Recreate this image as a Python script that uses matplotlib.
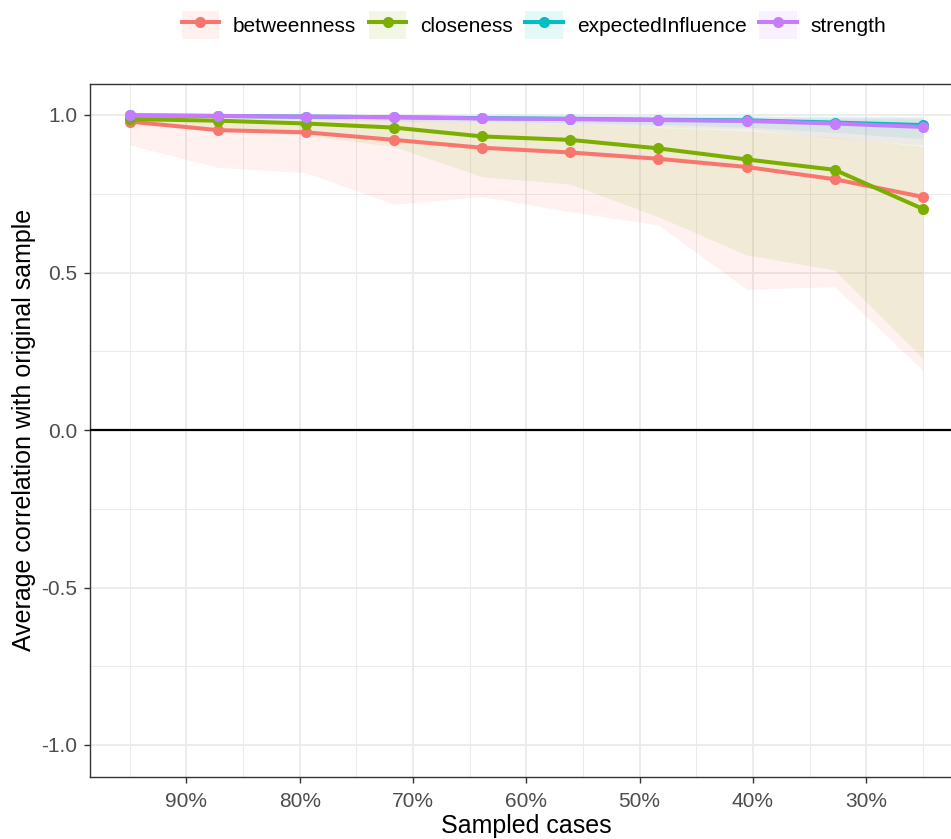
import numpy as np
import matplotlib
matplotlib.use("Agg")
import matplotlib.pyplot as plt
from matplotlib.lines import Line2D
from matplotlib.patches import Patch

plt.rcParams['font.family'] = ['Liberation Sans', 'DejaVu Sans']

# sampled proportion of cases (drop-case bootstrap)
cases = [0.95, 0.8722, 0.7944, 0.7167, 0.6389, 0.5611, 0.4833, 0.4056, 0.3278, 0.25]

measures = ["betweenness", "closeness", "expectedInfluence", "strength"]
colors = ["#F8766D", "#7CAE00", "#00BFC4", "#C77CFF"]

mean_vals = {
    "betweenness":       [0.979, 0.952, 0.945, 0.921, 0.896, 0.881, 0.861, 0.835, 0.796, 0.740],
    "closeness":         [0.987, 0.982, 0.973, 0.960, 0.932, 0.921, 0.894, 0.859, 0.826, 0.702],
    "expectedInfluence": [0.999, 0.997, 0.995, 0.993, 0.990, 0.988, 0.985, 0.983, 0.976, 0.968],
    "strength":          [0.999, 0.997, 0.995, 0.993, 0.989, 0.987, 0.984, 0.981, 0.973, 0.962],
}
lower_vals = {
    "betweenness":       [0.905, 0.834, 0.817, 0.717, 0.741, 0.693, 0.651, 0.447, 0.455, 0.190],
    "closeness":         [0.975, 0.955, 0.935, 0.900, 0.804, 0.781, 0.677, 0.556, 0.508, 0.228],
    "expectedInfluence": [0.996, 0.993, 0.989, 0.985, 0.980, 0.976, 0.970, 0.962, 0.945, 0.925],
    "strength":          [0.995, 0.991, 0.986, 0.981, 0.975, 0.970, 0.962, 0.955, 0.927, 0.905],
}
upper_vals = {
    "betweenness":       [1.000, 0.995, 0.990, 0.985, 0.975, 0.970, 0.960, 0.950, 0.930, 0.900],
    "closeness":         [1.000, 0.998, 0.996, 0.995, 0.993, 0.992, 0.990, 0.990, 0.989, 0.988],
    "expectedInfluence": [1.000, 1.000, 1.000, 0.999, 0.999, 0.998, 0.998, 0.997, 0.996, 0.995],
    "strength":          [1.000, 1.000, 0.999, 0.999, 0.998, 0.998, 0.997, 0.996, 0.994, 0.992],
}

xticks = [0.9, 0.8, 0.7, 0.6, 0.5, 0.4, 0.3]
xtick_labels = ["90%", "80%", "70%", "60%", "50%", "40%", "30%"]
yticks = [-1.0, -0.5, 0.0, 0.5, 1.0]

fig = plt.figure(figsize=(9.51, 8.39), dpi=100)
ax = fig.add_axes([90/951, 1 - 776.5/839, 872.5/951, 693/839])

for m, c in zip(measures, colors):
    ax.fill_between(cases, lower_vals[m], upper_vals[m], color=c, alpha=0.1, lw=0, zorder=2)
for m, c in zip(measures, colors):
    ax.plot(cases, mean_vals[m], color=c, lw=2.9, zorder=3, solid_capstyle='butt')
for m, c in zip(measures, colors):
    ax.plot(cases, mean_vals[m], 'o', color=c, ms=8, mec='none', zorder=4)

ax.axhline(0, color="black", lw=1.6, zorder=3)

ax.set_xlim(0.985, 0.215)
ax.set_ylim(-1.1, 1.1)
ax.set_xticks(xticks)
ax.set_xticklabels(xtick_labels)
ax.set_xticks([0.95, 0.85, 0.75, 0.65, 0.55, 0.45, 0.35, 0.25], minor=True)
ax.set_yticks(yticks)
ax.set_yticklabels(["-1.0", "-0.5", "0.0", "0.5", "1.0"])
ax.set_yticks([-0.75, -0.25, 0.25, 0.75], minor=True)

ax.grid(which='major', color='#EBEBEB', lw=1.3, zorder=0)
ax.grid(which='minor', color='#EBEBEB', lw=0.7, zorder=0)
ax.set_axisbelow(True)
for s in ax.spines.values():
    s.set_color('#333333')
    s.set_linewidth(1.0)
ax.tick_params(which='major', length=4, width=1, color='#333333',
               labelcolor='#4D4D4D', labelsize=15, pad=5)
ax.tick_params(axis='x', which='major', pad=7)
ax.tick_params(which='minor', length=0)

ax.set_xlabel("Sampled cases", fontsize=18, labelpad=2)
ax.set_ylabel("Average correlation with original sample", fontsize=18, labelpad=4)

handles = []
for c in colors:
    handles.append((Patch(facecolor=c, alpha=0.1, edgecolor='none'),
                    Line2D([], [], color=c, lw=2.9, marker='o', ms=8, mec='none')))
fig.legend(handles, measures, loc='center', bbox_to_anchor=(0.5615, 0.970),
           ncol=4, frameon=False, fontsize=15, handlelength=1.8, handleheight=1.7,
           handletextpad=0.67, columnspacing=0.6, borderpad=0.2)

fig.savefig("out.png", dpi=100)
